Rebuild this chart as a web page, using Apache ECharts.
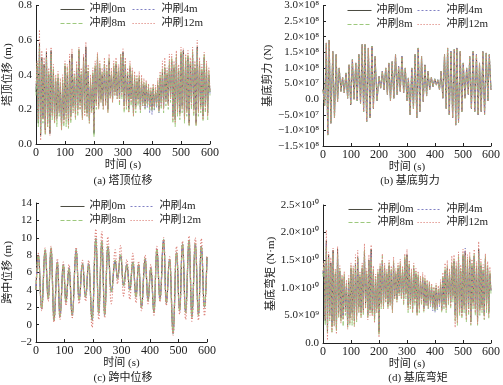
<!DOCTYPE html>
<html><head><meta charset="utf-8">
<script src="https://cdn.jsdelivr.net/npm/echarts@6/dist/echarts.min.js"></script>
<style>html,body{margin:0;padding:0;background:#fff}#c{width:503px;height:385px}</style>
</head><body><div id="c"></div><script>
// ---------- data ----------
const seriesNames = ['冲刷0m', '冲刷4m', '冲刷8m', '冲刷12m'];
const xTicks = [0, 100, 200, 300, 400, 500, 600];
// (a),(d): sampled every 4 s from 0 to 600 s
const sampleStep = 4;
// (a) tower-top displacement (m)
const a0 = [0.30,0.45,0.12,0.58,0.05,0.50,0.15,0.46,0.08,0.53, 0.12,0.40,0.06,0.54,0.18,0.42,0.14,0.36,0.16,0.38,
  0.20,0.33,0.10,0.35,0.14,0.45,0.18,0.40,0.12,0.48, 0.16,0.52,0.22,0.38,0.18,0.44,0.20,0.54,0.24,0.40,
  0.16,0.50,0.20,0.56,0.18,0.42,0.14,0.36,0.20,0.40, 0.06,0.44,0.24,0.50,0.22,0.44,0.26,0.40,0.22,0.46,
  0.24,0.42,0.20,0.48,0.28,0.40,0.26,0.44,0.30,0.46, 0.28,0.42,0.26,0.50,0.30,0.53,0.22,0.46,0.24,0.40,
  0.20,0.44,0.26,0.40,0.18,0.38,0.22,0.36,0.26,0.38, 0.20,0.36,0.24,0.34,0.22,0.34,0.24,0.32,0.22,0.30,
  0.20,0.32,0.22,0.30,0.24,0.34,0.20,0.38,0.24,0.42, 0.22,0.44,0.26,0.40,0.24,0.46,0.28,0.48,0.16,0.44,
  0.14,0.50,0.20,0.42,0.18,0.52,0.22,0.54,0.16,0.48, 0.20,0.50,0.12,0.46,0.24,0.52,0.20,0.44,0.12,0.56,
  0.20,0.46,0.22,0.42,0.16,0.50,0.22,0.44,0.18,0.40, 0.30];
const a4 = [0.32,0.43,0.14,0.55,0.08,0.48,0.16,0.44,0.10,0.50, 0.14,0.38,0.10,0.50,0.20,0.40,0.16,0.34,0.14,0.36,
  0.18,0.35,0.12,0.33,0.16,0.42,0.20,0.38,0.14,0.45, 0.18,0.48,0.24,0.36,0.20,0.42,0.22,0.50,0.26,0.38,
  0.18,0.47,0.22,0.52,0.20,0.40,0.16,0.34,0.22,0.38, 0.10,0.42,0.26,0.48,0.24,0.42,0.28,0.38,0.24,0.44,
  0.26,0.40,0.22,0.46,0.28,0.38,0.26,0.42,0.30,0.44, 0.28,0.40,0.26,0.48,0.30,0.50,0.24,0.44,0.25,0.38,
  0.22,0.42,0.27,0.38,0.20,0.36,0.23,0.35,0.26,0.36, 0.21,0.35,0.22,0.33,0.20,0.33,0.21,0.31,0.18,0.29,
  0.17,0.31,0.19,0.29,0.21,0.33,0.18,0.36,0.22,0.40, 0.21,0.42,0.25,0.38,0.23,0.44,0.27,0.46,0.18,0.42,
  0.16,0.48,0.21,0.40,0.19,0.50,0.23,0.52,0.18,0.46, 0.21,0.48,0.14,0.44,0.25,0.50,0.21,0.42,0.14,0.53,
  0.21,0.44,0.23,0.40,0.18,0.48,0.23,0.42,0.20,0.38, 0.29];
const a8 = [0.28,0.47,0.10,0.56,0.06,0.48,0.12,0.44,0.05,0.50, 0.10,0.42,0.08,0.52,0.14,0.44,0.12,0.38,0.10,0.40,
  0.16,0.36,0.08,0.38,0.10,0.46,0.10,0.44,0.09,0.46, 0.12,0.50,0.18,0.40,0.14,0.46,0.16,0.55,0.20,0.42,
  0.14,0.48,0.18,0.50,0.16,0.44,0.12,0.38,0.18,0.42, 0.04,0.46,0.20,0.52,0.20,0.46,0.24,0.42,0.20,0.48,
  0.22,0.44,0.18,0.50,0.26,0.42,0.24,0.46,0.28,0.48, 0.26,0.44,0.22,0.52,0.26,0.51,0.18,0.48,0.20,0.42,
  0.18,0.46,0.22,0.42,0.16,0.40,0.18,0.38,0.22,0.40, 0.18,0.38,0.22,0.36,0.20,0.36,0.22,0.34,0.20,0.32,
  0.19,0.34,0.20,0.32,0.22,0.36,0.18,0.40,0.20,0.44, 0.18,0.46,0.22,0.42,0.20,0.48,0.24,0.50,0.12,0.46,
  0.10,0.52,0.16,0.44,0.14,0.54,0.18,0.52,0.12,0.50, 0.16,0.52,0.10,0.48,0.20,0.54,0.16,0.46,0.10,0.54,
  0.16,0.48,0.18,0.44,0.13,0.52,0.18,0.46,0.14,0.42, 0.28];
const a12 = [0.34,0.48,0.14,0.66,0.02,0.54,0.14,0.50,0.06,0.55, 0.10,0.44,0.05,0.56,0.16,0.46,0.12,0.40,0.14,0.42,
  0.18,0.38,0.08,0.40,0.12,0.48,0.14,0.46,0.10,0.52, 0.14,0.55,0.18,0.42,0.15,0.48,0.18,0.56,0.20,0.44,
  0.14,0.52,0.16,0.59,0.16,0.46,0.12,0.40,0.18,0.44, 0.08,0.48,0.22,0.53,0.20,0.48,0.24,0.44,0.20,0.50,
  0.22,0.46,0.18,0.52,0.26,0.44,0.24,0.48,0.28,0.50, 0.26,0.46,0.24,0.52,0.28,0.55,0.20,0.50,0.22,0.44,
  0.18,0.48,0.24,0.44,0.16,0.42,0.20,0.40,0.24,0.42, 0.19,0.40,0.22,0.38,0.21,0.37,0.23,0.35,0.21,0.33,
  0.20,0.35,0.21,0.34,0.23,0.38,0.19,0.42,0.22,0.48, 0.20,0.50,0.24,0.44,0.22,0.52,0.26,0.52,0.14,0.48,
  0.12,0.54,0.18,0.46,0.16,0.56,0.20,0.55,0.14,0.52, 0.18,0.54,0.11,0.50,0.22,0.56,0.18,0.48,0.11,0.60,
  0.18,0.50,0.20,0.46,0.14,0.53,0.20,0.48,0.16,0.44, 0.31];
// (b) base shear, units of 1e8 N
const bTime = [0,6,12,17,22,28,35,41,47,52,58,64,70,76,82,88,93,99,105,111,117,122,128,134,140,145,150,156,162,168,
  175,180,186,193,200,206,212,218,224,230,235,241,247,253,259,265,270,276,282,288,294,300,305,311,317,323,329,335,340,346,
  352,358,364,370,375,381,387,393,399,405,410,416,422,428,434,440,445,451,457,463,469,474,478,484,490,496,501,507,513,519,
  524,530,536,542,548,554,559,565,571,577,583,589,594,600];
const bVal = [0.3,-0.2,1.8,-1.15,1.89,-0.77,1.53,-0.6,1.43,-0.08,1.0,0.25,0.7,0.2,0.84,0.03,1.1,-0.18,1.27,0.0,1.16,-0.05,1.43,-0.15,1.75,-0.4,1.75,-0.72,1.64,-0.6,
  1.7,-0.3,1.37,-0.05,0.73,0.35,0.9,0.3,1.0,0.15,1.16,-0.05,1.2,0.03,1.43,0.15,1.05,0.25,1.37,0.2,1.0,-0.05,0.68,-0.5,1.0,-0.3,1.43,-0.6,1.64,-0.4,
  1.37,-0.08,1.1,0.1,0.9,0.3,0.7,0.4,0.65,0.45,0.62,0.3,0.9,0.03,1.43,-0.3,1.64,-0.5,1.53,-0.6,1.6,-0.83,1.64,-0.75,1.53,-0.4,1.16,0.03,1.0,0.15,
  1.37,-0.3,1.53,-0.4,1.43,-0.5,1.16,-0.4,1.53,-0.5,1.48,-0.05,1.43,0.3];
// (c) mid-span displacement (m)
const cTime = [0,8,20,32,43,53,63,75,84,96,105,116,127,141,151,163,174,185,197,210,220,231,241,252,264,278,286,297,307,319,
  329,340,351,360,370,383,393,403,414,424,435,448,457,469,481,493,504,514,525,537,547,559,570,580,591,600];
const cBase = [4.0,8.0,1.85,8.6,3.0,8.8,0.5,7.2,0.9,6.9, 2.6,6.5,1.1,8.6,2.8,7.0,3.2,7.0,0.5,9.9, 1.3,9.6,1.1,9.0,3.8,7.4,5.3,8.0,4.5,6.9,
  4.0,7.2,3.2,6.9,2.0,7.6,2.8,6.5,1.4,8.7, 2.9,9.8,2.5,7.5,-1.0,8.3,1.6,9.3,1.4,9.7, 0.9,9.3,1.1,9.0,2.0,7.8];
const c12 = [4.0,8.2,1.6,8.8,2.7,9.0,0.3,7.6,0.6,7.2, 2.2,6.9,0.8,8.9,2.4,7.4,2.7,7.4,-0.3,11.0, 0.6,10.7,0.8,10.1,2.4,8.6,4.7,9.1,3.3,7.5,
  2.9,8.2,2.5,7.3,1.6,8.0,2.4,6.9,1.1,9.0, 2.6,10.0,2.2,7.8,-1.2,9.0,1.2,9.6,0.6,10.2, 0.4,10.0,0.5,9.9,1.0,8.0];
// (d) base moment, units of 1e10 N·m
const d0 = [1.25,1.40,0.40,1.85,0.20,1.60,0.50,1.45,0.30,1.68, 0.40,1.25,0.25,1.70,0.55,1.30,0.45,1.15,0.50,1.20,
  0.60,1.05,0.32,1.10,0.45,1.35,0.55,1.25,0.40,1.45, 0.50,1.55,0.65,1.20,0.55,1.35,0.60,1.65,0.72,1.25,
  0.50,1.50,0.60,1.70,0.55,1.30,0.45,1.15,0.62,1.25, 0.20,1.35,0.72,1.50,0.68,1.35,0.80,1.25,0.70,1.40,
  0.74,1.30,0.62,1.45,0.85,1.25,0.80,1.35,0.90,1.40, 0.85,1.30,0.80,1.52,0.90,1.60,0.68,1.40,0.72,1.25,
  0.62,1.35,0.80,1.25,0.55,1.20,0.68,1.12,0.80,1.18, 0.62,1.12,0.74,1.06,0.68,1.06,0.74,1.00,0.68,0.94,
  0.62,1.00,0.68,0.94,0.74,1.06,0.62,1.18,0.74,1.30, 0.68,1.35,0.80,1.25,0.74,1.40,0.86,1.48,0.50,1.35,
  0.45,1.52,0.62,1.30,0.55,1.58,0.68,1.66,0.50,1.48, 0.62,1.52,0.38,1.40,0.74,1.58,0.62,1.35,0.38,1.70,
  0.62,1.40,0.68,1.30,0.50,1.52,0.68,1.35,0.55,1.25, 0.95];
const d4 = [1.28,1.36,0.44,1.80,0.26,1.55,0.52,1.40,0.34,1.60, 0.44,1.20,0.32,1.62,0.60,1.25,0.50,1.10,0.45,1.15,
  0.56,1.10,0.36,1.04,0.50,1.30,0.60,1.20,0.44,1.40, 0.55,1.48,0.70,1.15,0.60,1.30,0.66,1.56,0.78,1.20,
  0.55,1.45,0.66,1.62,0.60,1.25,0.50,1.10,0.66,1.20, 0.30,1.30,0.78,1.45,0.72,1.30,0.84,1.20,0.74,1.36,
  0.78,1.25,0.68,1.40,0.86,1.20,0.82,1.30,0.92,1.36, 0.86,1.25,0.80,1.48,0.92,1.54,0.72,1.36,0.76,1.20,
  0.66,1.30,0.82,1.20,0.60,1.15,0.70,1.10,0.80,1.14, 0.64,1.10,0.70,1.04,0.62,1.04,0.66,0.98,0.58,0.92,
  0.55,0.98,0.60,0.92,0.66,1.04,0.58,1.14,0.70,1.25, 0.66,1.30,0.78,1.20,0.72,1.36,0.84,1.42,0.55,1.30,
  0.50,1.48,0.66,1.25,0.60,1.54,0.72,1.72,0.55,1.44, 0.66,1.48,0.44,1.36,0.78,1.54,0.66,1.30,0.44,1.64,
  0.66,1.36,0.72,1.25,0.55,1.48,0.72,1.30,0.60,1.20, 0.92];
const d8 = [1.20,1.45,0.32,1.75,0.18,1.55,0.40,1.40,0.18,1.62, 0.32,1.30,0.22,1.62,0.45,1.35,0.38,1.20,0.30,1.25,
  0.50,1.10,0.28,1.18,0.32,1.40,0.32,1.35,0.30,1.45, 0.38,1.55,0.55,1.25,0.45,1.40,0.50,1.70,0.62,1.30,
  0.45,1.48,0.55,1.55,0.50,1.35,0.38,1.20,0.55,1.30, 0.14,1.40,0.62,1.58,0.62,1.40,0.74,1.30,0.62,1.45,
  0.68,1.35,0.55,1.50,0.80,1.30,0.74,1.40,0.86,1.45, 0.80,1.35,0.68,1.58,0.80,1.56,0.55,1.45,0.62,1.30,
  0.55,1.40,0.68,1.30,0.50,1.25,0.55,1.18,0.68,1.22, 0.55,1.18,0.68,1.12,0.62,1.10,0.68,1.05,0.62,1.00,
  0.58,1.05,0.62,1.00,0.68,1.10,0.55,1.22,0.62,1.35, 0.55,1.40,0.68,1.30,0.62,1.45,0.74,1.52,0.38,1.40,
  0.32,1.58,0.50,1.35,0.44,1.62,0.55,1.58,0.38,1.52, 0.50,1.58,0.32,1.45,0.62,1.62,0.50,1.40,0.32,1.62,
  0.50,1.45,0.55,1.35,0.42,1.58,0.55,1.40,0.45,1.30, 0.88];
const d12 = [1.30,1.48,0.42,2.05,0.05,1.65,0.42,1.55,0.20,1.72, 0.30,1.35,0.16,1.75,0.48,1.40,0.36,1.24,0.42,1.30,
  0.55,1.15,0.25,1.22,0.36,1.45,0.42,1.40,0.30,1.60, 0.42,1.68,0.55,1.30,0.46,1.45,0.55,1.80,0.62,1.35,
  0.42,1.60,0.50,1.78,0.48,1.40,0.36,1.25,0.55,1.35, 0.10,1.45,0.66,1.62,0.62,1.45,0.74,1.35,0.62,1.50,
  0.68,1.40,0.55,1.56,0.80,1.35,0.74,1.45,0.86,1.52, 0.80,1.40,0.72,1.62,0.84,1.70,0.60,1.50,0.66,1.35,
  0.55,1.45,0.72,1.35,0.50,1.30,0.60,1.22,0.72,1.28, 0.58,1.22,0.68,1.15,0.64,1.12,0.70,1.08,0.64,1.02,
  0.60,1.08,0.64,1.04,0.70,1.15,0.58,1.28,0.66,1.45, 0.60,1.50,0.72,1.35,0.66,1.58,0.80,1.60,0.28,1.48,
  0.36,1.65,0.55,1.42,0.48,1.70,0.60,1.68,0.42,1.60, 0.55,1.65,0.34,1.52,0.66,1.70,0.55,1.48,0.34,1.84,
  0.55,1.52,0.60,1.42,0.44,1.62,0.60,1.48,0.48,1.38, 0.96];

// ---------- styling ----------
const FONT = '"Liberation Serif", "Noto Sans CJK SC", serif';
const colors = ['#4a4a40', '#8080c4', '#9cc87c', '#dc8078'];
const dashes = ['solid', [2, 2], [4, 2], [1.2, 1.8]];

function pairs(ts, vs) { return vs.map((v, i) => [ts[i], v]); }
function gridPairs(vs) { return vs.map((v, i) => [i * sampleStep, v]); }

const grids = [
  {left: 36, right: 293, top: 4, bottom: 241},
  {left: 323, right: 9, top: 5, bottom: 239},
  {left: 36, right: 296, top: 203, bottom: 43},
  {left: 323, right: 9, top: 205, bottom: 42}
];

function fmtB(v) {
  if (Math.abs(v) < 1e-9) return '0.0';
  const sg = v < 0 ? '−' : '';
  const a = Math.abs(v);
  return a >= 1 ? sg + a.toFixed(1) + '×10⁸' : sg + (a * 10).toFixed(1) + '×10⁷';
}
function fmtD(v) {
  if (Math.abs(v) < 1e-9) return '0.0';
  return v >= 1 ? v.toFixed(1) + '×10¹⁰' : (v * 10).toFixed(1) + '×10⁹';
}
const yCfg = [
  {min: 0, max: 0.8, interval: 0.2, name: '塔顶位移 (m)', gap: 22, fmt: v => v.toFixed(1)},
  {min: -1.5, max: 3.0, interval: 0.5, name: '基底剪力 (N)', gap: 46, fmt: fmtB},
  {min: -2, max: 14, interval: 2, name: '跨中位移 (m)', gap: 22, fmt: v => (v < 0 ? '−' + (-v) : String(v))},
  {min: 0, max: 2.5, interval: 0.5, name: '基底弯矩 (N·m)', gap: 46, fmt: fmtD}
];

const axisCommon = {
  axisLine: {show: true, onZero: false, lineStyle: {color: '#222', width: 1}},
  axisTick: {show: true, inside: true, length: 3, lineStyle: {color: '#222'}},
  splitLine: {show: false},
  axisLabel: {color: '#222', fontFamily: FONT, fontSize: 11, margin: 4},
  nameTextStyle: {color: '#222', fontFamily: FONT, fontSize: 11}
};

const xAxis = grids.map((g, i) => Object.assign({}, axisCommon, {
  type: 'value', gridIndex: i, min: 0, max: 600, interval: 100,
  name: '时间 (s)', nameLocation: 'middle', nameGap: 16,
  axisLabel: Object.assign({}, axisCommon.axisLabel, {fontSize: 12, margin: 3})
}));
const yAxis = yCfg.map((c, i) => Object.assign({}, axisCommon, {
  type: 'value', gridIndex: i, min: c.min, max: c.max, interval: c.interval,
  name: c.name, nameLocation: 'middle', nameGap: c.gap,
  axisLabel: Object.assign({}, axisCommon.axisLabel, {formatter: c.fmt})
}));

const plotData = [
  [gridPairs(a0), gridPairs(a4), gridPairs(a8), gridPairs(a12)],
  [pairs(bTime, bVal), pairs(bTime, bVal), pairs(bTime, bVal), pairs(bTime, bVal)],
  [pairs(cTime, cBase), pairs(cTime, cBase), pairs(cTime, cBase), pairs(cTime, c12)],
  [gridPairs(d0), gridPairs(d4), gridPairs(d8), gridPairs(d12)]
];

const series = [];
plotData.forEach((sets, gi) => {
  sets.forEach((data, si) => {
    series.push({
      type: 'line', name: seriesNames[si], xAxisIndex: gi, yAxisIndex: gi,
      data: data, symbol: 'none', showSymbol: false, smooth: gi === 2 ? 0.45 : false,
      smoothMonotone: 'x',
      lineStyle: {color: colors[si], type: dashes[si], width: gi === 2 ? 1.2 : 0.9},
      itemStyle: {color: colors[si]}, animation: false, silent: true
    });
  });
});

// legend positions: [col1 left, col2 left, row1 top, row2 top] per plot
const legPos = [[60, 132, 4, 18], [347, 417, 5, 19], [60, 130, 201, 215], [348, 417, 204, 217]];
const legend = [];
legPos.forEach(p => {
  const spots = [[p[0], p[2]], [p[1], p[2]], [p[0], p[3]], [p[1], p[3]]];
  spots.forEach((s, k) => legend.push({
    data: [seriesNames[k]], left: s[0], top: s[1], itemWidth: 24, itemHeight: 10, itemGap: 0,
    itemStyle: {opacity: 0, borderWidth: 0},
    lineStyle: {width: 1},
    textStyle: {fontFamily: FONT, fontSize: 11, color: '#222'}, padding: 0, selectedMode: false
  }));
});

const captions = [['(a) 塔顶位移', 123, 181], ['(b) 基底剪力', 410, 181], ['(c) 跨中位移', 123, 378], ['(d) 基底弯矩', 418, 378]];
const graphic = captions.map(c => ({
  type: 'text', x: c[1], y: c[2],
  style: {text: c[0], align: 'center', verticalAlign: 'middle', font: '11px ' + FONT, fill: '#222'}
}));

const chart = echarts.init(document.getElementById('c'), null, {renderer: 'canvas'});
chart.setOption({
  animation: false, backgroundColor: '#fff',
  grid: grids, xAxis: xAxis, yAxis: yAxis, series: series, legend: legend, graphic: graphic
});
</script></body></html>
